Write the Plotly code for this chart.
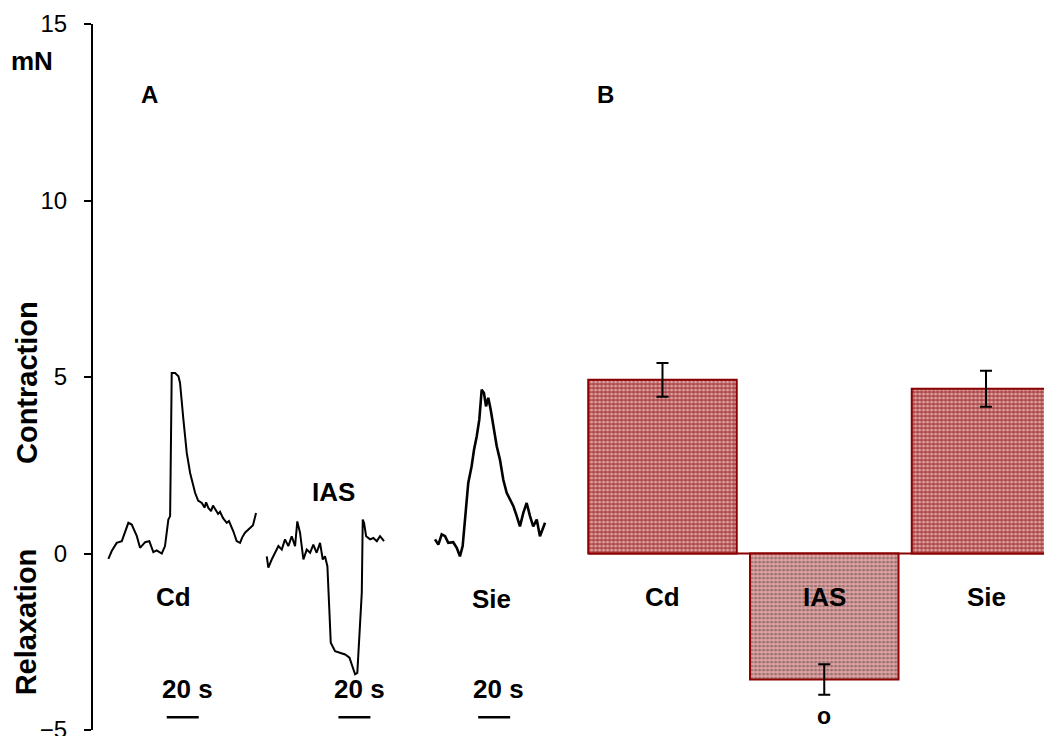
import plotly.graph_objects as go

# ---------------- data ----------------
# Panel A: representative force traces (time in s from trace start, force in mN)
cd_t = [0, 2.1, 5.2, 8.4, 12.5, 14.6, 17.8, 19.8, 23.0, 25.6, 28.1, 30.2, 33.4, 35.4, 37.5, 38.6,
        39.6, 41.7, 43.8, 44.8, 46.9, 49.0, 51.1, 54.2, 56.1, 58.4, 60.1, 61.1, 62.5, 64.2, 65.4,
        66.7, 68.6, 69.8, 71.7, 74.0, 75.4, 78.1, 80.2, 82.3, 83.6, 85.4, 88.6, 90.4, 92.3]
cd_v = [-0.15, 0.07, 0.30, 0.35, 0.87, 0.82, 0.49, 0.16, 0.32, 0.35, 0.04, 0.09, 0.0, 0.21, 0.96, 1.06,
        5.11, 5.11, 5.02, 4.83, 3.79, 2.85, 2.28, 1.72, 1.50, 1.43, 1.30, 1.45, 1.29, 1.20, 1.36,
        1.25, 1.12, 1.18, 1.00, 0.87, 0.92, 0.63, 0.35, 0.30, 0.45, 0.59, 0.73, 0.80, 1.15]

ias_t = [0, 1.0, 3.1, 5.2, 7.3, 9.4, 11.4, 13.5, 15.6, 17.7, 19.1, 20.8, 22.9, 25.0, 27.1, 29.1,
         31.2, 33.3, 35.0, 36.4, 37.9, 39.1, 40.0, 42.7, 45.8, 49.0, 51.7, 53.8, 55.2, 56.6, 58.3,
         59.4, 60.0, 60.8, 62.1, 64.6, 66.6, 68.8, 70.8, 73.3]
ias_v = [-0.08, -0.40, -0.17, 0.02, 0.21, 0.11, 0.40, 0.21, 0.49, 0.21, 0.91, 0.59, -0.17, 0.11, 0.02, 0.25,
         0.02, 0.30, -0.17, -0.08, -0.36, -1.58, -2.53, -2.77, -2.81, -2.86, -2.95, -3.24, -3.42, -3.38, -1.87,
         -1.11, 0.96, 0.87, 0.49, 0.40, 0.44, 0.35, 0.49, 0.35]

sie_t = [0, 2.1, 4.2, 6.3, 8.3, 11.4, 13.6, 15.6, 17.3, 18.8, 20.8, 22.9, 24.4, 26.1, 27.7, 29.2,
         30.6, 31.9, 33.3, 34.8, 36.4, 38.6, 40.6, 42.7, 44.8, 46.9, 49.0, 51.1, 53.1, 55.2, 57.3,
         59.4, 61.4, 63.6, 65.6, 68.8]
sie_v = [0.40, 0.25, 0.54, 0.49, 0.30, 0.32, 0.16, -0.08, 0.21, 1.06, 2.00, 2.47, 2.94, 3.32, 3.79, 4.64,
         4.55, 4.17, 4.41, 4.08, 3.60, 3.04, 2.66, 2.09, 1.72, 1.53, 1.34, 1.06, 0.77, 1.15, 1.43,
         1.06, 0.77, 0.96, 0.49, 0.87]

scale_bar_s = 20  # length of time scale bars (s)

# Panel B: mean responses
categories = ["Cd", "IAS", "Sie"]
means = [4.92, -3.57, 4.67]
sems = [0.48, 0.43, 0.51]

y_ticks = [-5, 0, 5, 10, 15]

# ---------------- layout constants ----------------
FONT = "Liberation Sans, Arial, sans-serif"
CD_OFF, IAS_OFF, SIE_OFF = 9.6, 108.6, 213.75
BARGAP = 0.082

fig = go.Figure()

for t, v, off, w in [(cd_t, cd_v, CD_OFF, 2), (ias_t, ias_v, IAS_OFF, 2), (sie_t, sie_v, SIE_OFF, 2.6)]:
    fig.add_trace(go.Scatter(x=[ti + off for ti in t], y=v, mode="lines",
                             line=dict(color="black", width=w), xaxis="x", yaxis="y",
                             showlegend=False, hoverinfo="skip"))

fill_fg = ["#780606", "#b03838", "#780606"]
fill_bg = ["#b04444", "#e8a4a4", "#b04444"]
fig.add_trace(go.Bar(
    x=categories, y=means, xaxis="x2", yaxis="y",
    marker=dict(color=fill_bg, line=dict(color="#8b0000", width=2),
                pattern=dict(shape=".", fgcolor=fill_fg, bgcolor=fill_bg, size=4, solidity=0.5)),
    error_y=dict(type="data", array=sems, color="black", thickness=2, width=6),
    showlegend=False, hoverinfo="skip"))

shapes = []
# baseline under panel B bars
shapes.append(dict(type="line", xref="x2", yref="y", x0=-0.5 + BARGAP / 2, x1=2.41, y0=0, y1=0,
                   line=dict(color="#8b0000", width=2), layer="below"))
# time scale bars
for start in [CD_OFF + 36.5, IAS_OFF + 44.8, SIE_OFF + 27.0]:
    shapes.append(dict(type="line", xref="x", yref="y", x0=start, x1=start + scale_bar_s,
                       y0=-4.64, y1=-4.64, line=dict(color="black", width=2.5)))

ann = []
def txt(text, x, y, xref="x", yref="y", size=26, bold=True, angle=0):
    ann.append(dict(text=f"<b>{text}</b>" if bold else text, x=x, y=y, xref=xref, yref=yref,
                    showarrow=False, textangle=angle, font=dict(family=FONT, size=size, color="black"),
                    xanchor="center", yanchor="middle"))

txt("Cd", CD_OFF + 41.0, -1.22)
txt("IAS", IAS_OFF + 41.5, 1.73)
txt("Sie", SIE_OFF + 35.5, -1.30)
for start in [CD_OFF + 36.5, IAS_OFF + 44.8, SIE_OFF + 27.0]:
    txt(f"{scale_bar_s} s", start + 13, -3.85)
for c in categories:
    txt(c, c, -1.22, xref="x2")
txt("o", "IAS", -4.6, xref="x2", size=23)
txt("A", 0.0594, 13.0, xref="paper", size=24)
txt("B", 0.534, 13.0, xref="paper", size=24)
txt("mN", -0.064, 13.95, xref="paper", size=26)
txt("Contraction", -0.0695, 4.84, xref="paper", size=29, angle=-90)
txt("Relaxation", -0.0695, -1.94, xref="paper", size=29, angle=-90)

# page body adds an 8 px offset; sizes/margins compensate so the plot area lands at 93..1052 x 24..730
fig.update_layout(
    width=1044, height=736,
    margin=dict(l=85, r=0, t=16, b=14),
    paper_bgcolor="white", plot_bgcolor="white",
    font=dict(family=FONT, color="black"),
    bargap=BARGAP,
    xaxis=dict(domain=[0, 0.5], range=[0, 299.7], visible=False),
    xaxis2=dict(domain=[0.5095, 1.0], range=[-0.5, 2.408], visible=False, type="category",
                anchor="y"),
    yaxis=dict(range=[-5, 15], tickvals=y_ticks, anchor="x", showline=True, linecolor="black",
               linewidth=2, ticks="outside", ticklen=7, tickwidth=1.5, tickcolor="black",
               showgrid=False, zeroline=False, ticklabelstandoff=12,
               tickfont=dict(family=FONT, size=24, color="black")),
    shapes=shapes, annotations=ann,
)

fig.write_html("out.html")
